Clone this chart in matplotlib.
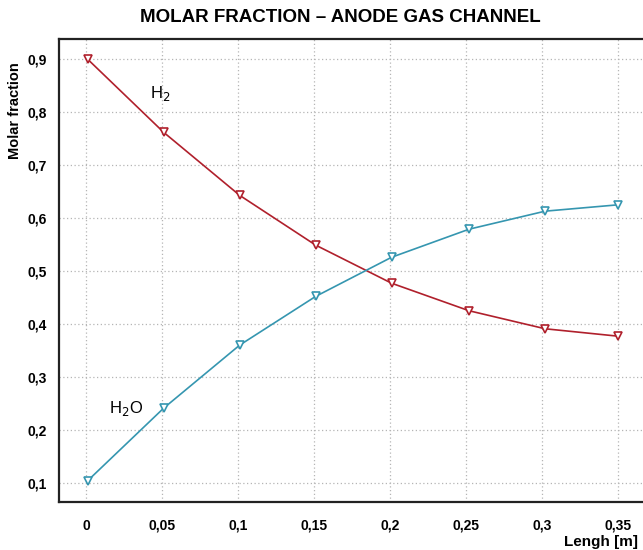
import matplotlib
matplotlib.use("Agg")
import matplotlib.pyplot as plt
from matplotlib import font_manager

# data
length = [0.001, 0.051, 0.101, 0.151, 0.201, 0.252, 0.302, 0.350]
h2 = [0.900, 0.762, 0.643, 0.549, 0.477, 0.425, 0.391, 0.377]
h2o = [0.104, 0.241, 0.360, 0.452, 0.526, 0.579, 0.613, 0.625]
xticks = [0, 0.05, 0.1, 0.15, 0.2, 0.25, 0.3, 0.35]
yticks = [0.1, 0.2, 0.3, 0.4, 0.5, 0.6, 0.7, 0.8, 0.9]

names = {f.name for f in font_manager.fontManager.ttflist}
fam = "Liberation Sans Narrow" if "Liberation Sans Narrow" in names else "Liberation Sans"
plt.rcParams["font.family"] = [fam, "DejaVu Sans"]

fig = plt.figure(figsize=(6.43, 5.5), dpi=100)
ax = fig.add_axes([59 / 643, 1 - 502 / 550, 1 - 59 / 643, (502 - 39) / 550])

red = "#b0202c"
teal = "#3596b0"
ax.plot(length, h2, color=red, lw=1.2, marker="v", ms=6, mfc="white", mec=red, mew=1.2)
ax.plot(length, h2o, color=teal, lw=1.2, marker="v", ms=6, mfc="white", mec=teal, mew=1.2)

ax.text(0.0487, 0.836, "H$_2$", fontsize=12, ha="center", va="center")
ax.text(0.026, 0.241, "H$_2$O", fontsize=12, ha="center", va="center")

ax.set_xlim(-0.0178, 0.3664)
ax.set_ylim(0.064, 0.938)
ax.set_xticks(xticks)
ax.set_yticks(yticks)
ax.set_xticklabels([("%g" % v).replace(".", ",") for v in xticks], fontsize=10, fontweight="bold")
ax.set_yticklabels([("%g" % v).replace(".", ",") for v in yticks], fontsize=10, fontweight="bold")
ax.tick_params(length=0, pad=9)
ax.tick_params(axis="x", pad=12)
ax.grid(True, ls=(0, (1, 2)), color="#b5b5b5", lw=0.9)
for s in ["left", "bottom", "top"]:
    ax.spines[s].set_linewidth(1.6)
    ax.spines[s].set_color("#222222")
ax.spines["right"].set_visible(False)

fig.text(340 / 643, 1 - 18 / 550, "MOLAR FRACTION \u2013 ANODE GAS CHANNEL",
         fontsize=13.5, fontweight="bold", ha="center", va="center")
fig.text(15 / 643, 1 - 111 / 550, "Molar fraction", rotation=90,
         fontsize=10.5, fontweight="bold", ha="center", va="center")
fig.text(638 / 643, 1 - 542 / 550, "Lengh [m]", fontsize=11, fontweight="bold",
         ha="right", va="center")

fig.savefig("out.png", dpi=100)
